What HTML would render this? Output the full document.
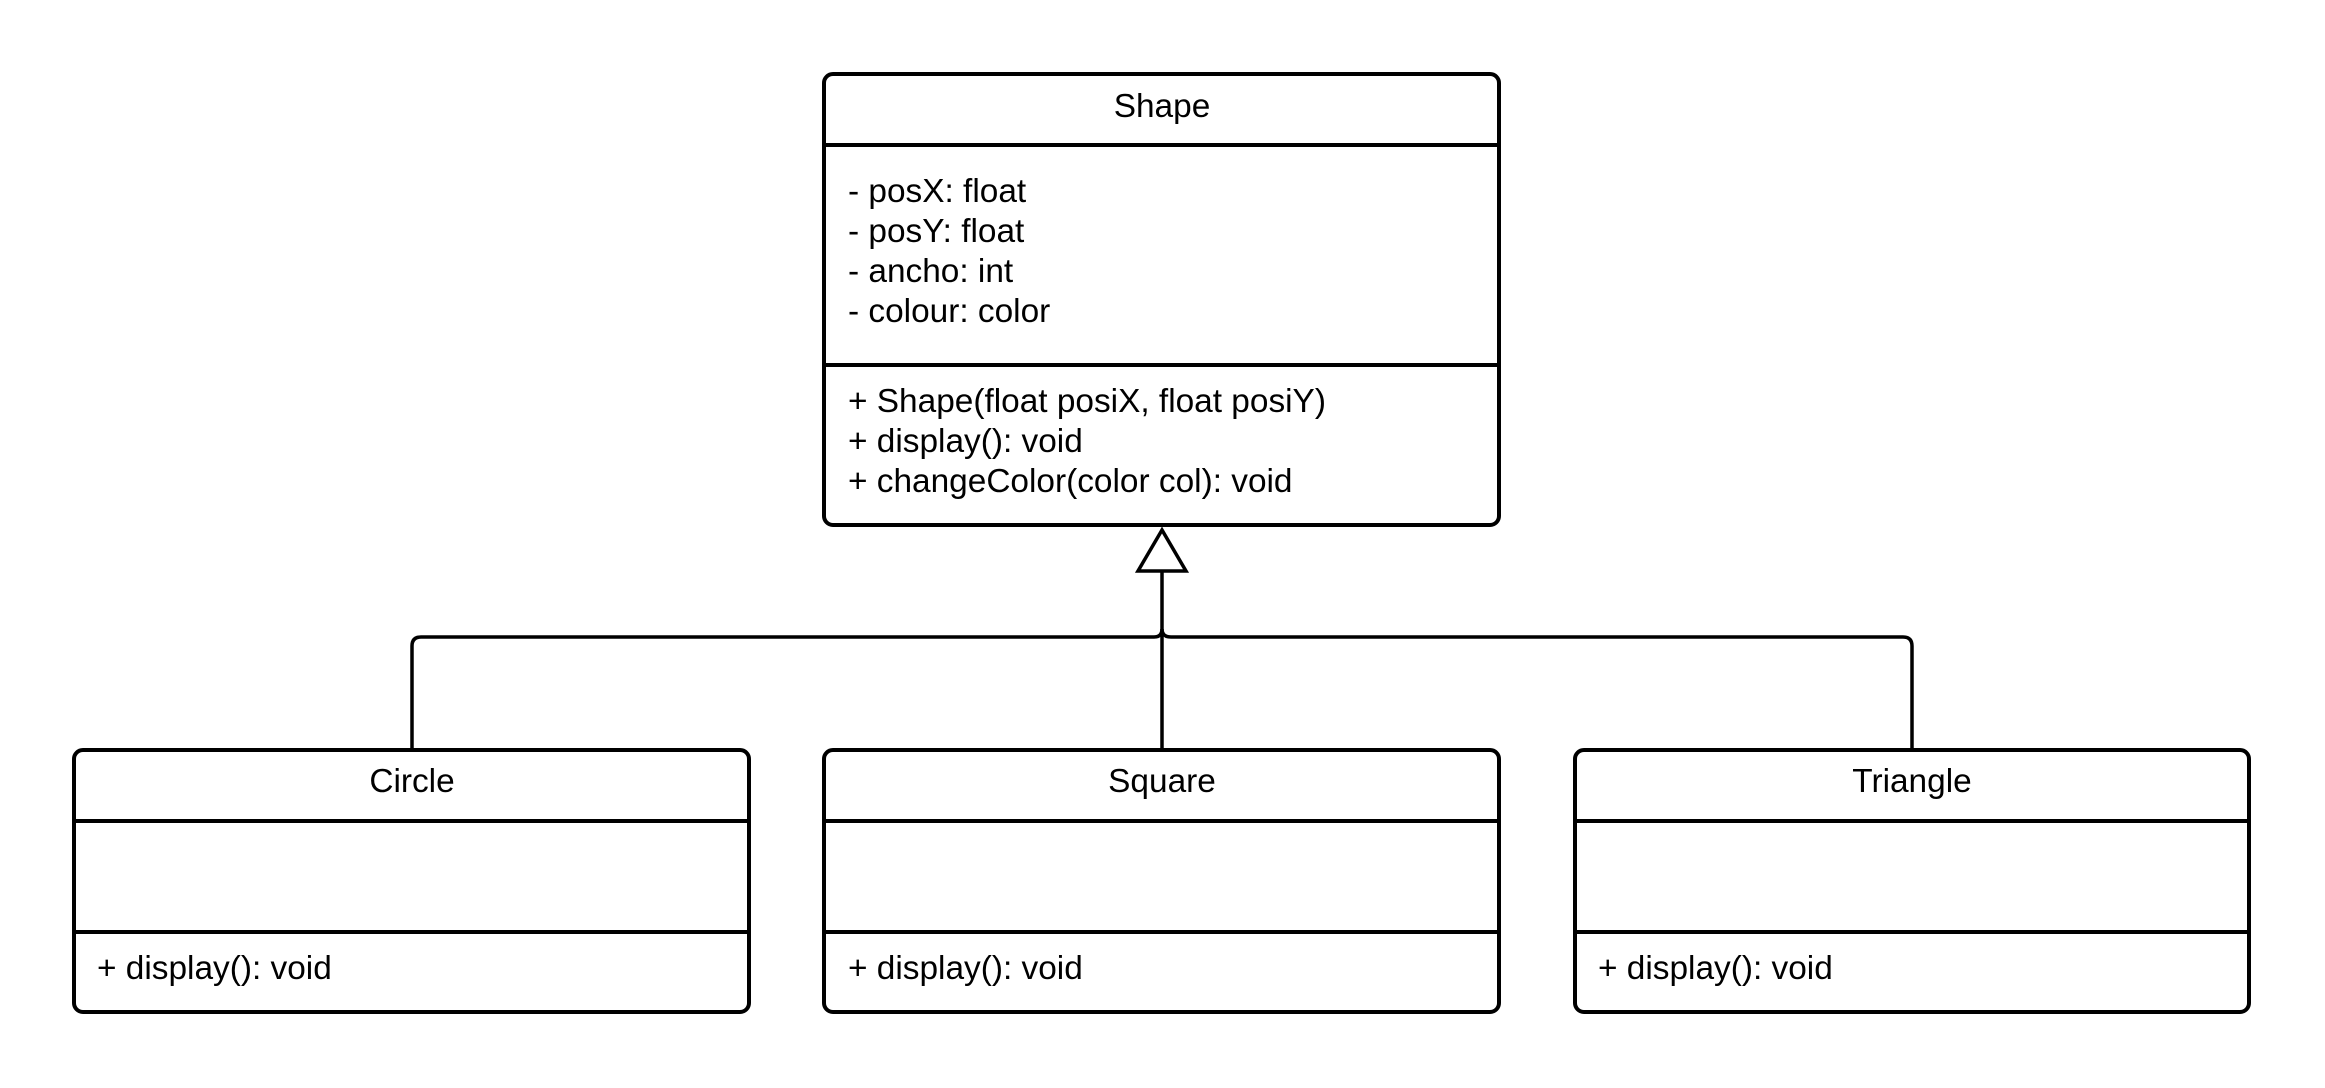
<!DOCTYPE html>
<html><head><meta charset="utf-8"><style>
html,body{margin:0;padding:0;background:#fff;width:2325px;height:1088px;overflow:hidden}
text{font-family:"Liberation Sans",Arial,sans-serif;font-size:33.4px;fill:#000}
</style></head><body>
<svg width="2325" height="1088" viewBox="0 0 2325 1088" xmlns="http://www.w3.org/2000/svg">
<g fill="none" stroke="#000" stroke-width="4">
<rect x="824" y="74" width="675" height="451" rx="9"/>
<line x1="824" y1="145" x2="1499" y2="145"/>
<line x1="824" y1="365" x2="1499" y2="365"/>
<rect x="74" y="750" width="675" height="262" rx="9"/>
<line x1="74" y1="821" x2="749" y2="821"/>
<line x1="74" y1="932" x2="749" y2="932"/>
<rect x="824" y="750" width="675" height="262" rx="9"/>
<line x1="824" y1="821" x2="1499" y2="821"/>
<line x1="824" y1="932" x2="1499" y2="932"/>
<rect x="1575" y="750" width="674" height="262" rx="9"/>
<line x1="1575" y1="821" x2="2249" y2="821"/>
<line x1="1575" y1="932" x2="2249" y2="932"/>
</g>
<g fill="none" stroke="#000" stroke-width="3.5">
<path d="M412 750 V646 Q412 637 421 637 H1154 Q1162 637 1162 629"/>
<path d="M1912 750 V646 Q1912 637 1903 637 H1171 Q1162 637 1162 629"/>
<line x1="1162" y1="571" x2="1162" y2="750"/>
<polygon points="1162,530 1138,571 1186,571" fill="#fff"/>
</g>
<text x="1162" y="117" text-anchor="middle">Shape</text>
<text x="848" y="202">- posX: float</text>
<text x="848" y="242">- posY: float</text>
<text x="848" y="282">- ancho: int</text>
<text x="848" y="322">- colour: color</text>
<text x="848" y="412">+ Shape(float posiX, float posiY)</text>
<text x="848" y="452">+ display(): void</text>
<text x="848" y="492">+ changeColor(color col): void</text>
<text x="412" y="792" text-anchor="middle">Circle</text>
<text x="1162" y="792" text-anchor="middle">Square</text>
<text x="1912" y="792" text-anchor="middle">Triangle</text>
<text x="97" y="979">+ display(): void</text>
<text x="848" y="979">+ display(): void</text>
<text x="1598" y="979">+ display(): void</text>
</svg>
</body></html>
